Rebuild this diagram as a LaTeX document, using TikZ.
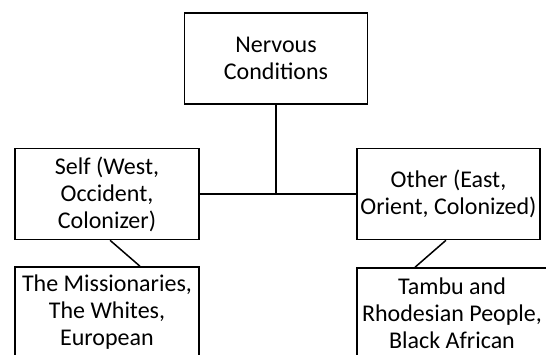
\documentclass[tikz,border=0pt]{standalone}
\usepackage{fontspec}
\setmainfont{Carlito}
\usetikzlibrary{positioning}

\begin{document}
\begin{tikzpicture}[
    box/.style={draw, line width=1.5pt, align=center, inner sep=2pt,
        minimum height=91pt, font=\fontsize{24}{27}\selectfont},
    link/.style={line width=1.5pt}
]
\useasboundingbox (-276pt,58.5pt) rectangle (270pt,-295.5pt);
\clip (-276pt,58.5pt) rectangle (270pt,-295.5pt);

 % Title
 \node[box,
        minimum width=183pt
        ] (title) at(0,0){Nervous\\Conditions};

% Self branch
\node[box,
    minimum width=184pt,
    below=43pt of title, xshift=-169pt
] (self) {Self (West,\\Occident,\\Colonizer)};

\node[box,
    minimum width=184pt,
    below=26pt of self
] (whites) {The Missionaries,\\The Whites,\\European};

% Other branch
\node[box,
    minimum width=183pt,
    below=43pt of title, xshift=172.5pt
] (other) {Other (East,\\Orient, Colonized)};

\node[box,
    minimum width=190pt,
    below=27pt of other, xshift=3.5pt
] (tambu) {Tambu and\\Rhodesian People,\\Black African};

% Connectors
\coordinate (junction) at (title.south |- self.east);
\draw[link] (title.south) -- (junction);
\draw[link] (self.east) -- (other.west);
\draw[link] ([xshift=3pt]self.south) -- ([xshift=33pt]whites.north);
\draw[link] ([xshift=-2.5pt]other.south) -- ([xshift=-37pt]tambu.north);

\end{tikzpicture}
\end{document}
